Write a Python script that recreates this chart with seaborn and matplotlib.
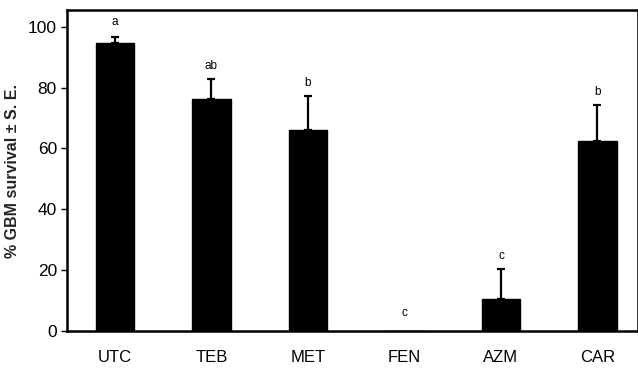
import matplotlib
matplotlib.use("Agg")
import matplotlib.pyplot as plt
import seaborn as sns
import numpy as np
import pandas as pd

treatments = ["UTC", "TEB", "MET", "FEN", "AZM", "CAR"]
survival = [94.7, 76.1, 66.0, 0.0, 10.5, 62.5]
se = [2.0, 6.6, 11.3, 0.0, 9.8, 11.8]
letters = ["a", "ab", "b", "c", "c", "b"]

sns.set_theme(style="white")
plt.rcParams['font.family'] = ['Liberation Sans', 'DejaVu Sans']

df = pd.DataFrame({"treatment": treatments, "survival": survival})

fig = plt.figure(figsize=(6.38, 3.68), dpi=100)
ax = fig.add_axes([0.1045, 0.1005, 0.8955, 0.8723])

sns.barplot(data=df, x="treatment", y="survival", color="black",
            width=0.40, errorbar=None, ax=ax, saturation=1)
for p in ax.patches:
    p.set_edgecolor("black")

x = np.arange(len(treatments))
mask = np.array(se) > 0
ax.errorbar(x[mask], np.array(survival)[mask],
            yerr=[np.zeros(mask.sum()), np.array(se)[mask]],
            fmt="none", ecolor="black", elinewidth=1.6, capsize=3, capthick=1.6)

offsets = {0: 5.0, 3: 5.9}
for i, (v, s, l) in enumerate(zip(survival, se, letters)):
    yy = v + s + offsets.get(i, 4.3) if v > 0 else 5.9
    ax.text(i, yy, l, ha="center", va="center", fontsize=8.5, color="black")

ax.set_ylim(0, 105.5)
ax.set_xlim(-0.5, 5.42)
ax.set_yticks([0, 20, 40, 60, 80, 100])
ax.set_xlabel("")
ax.set_ylabel("% GBM survival ± S. E.", fontsize=11.5, fontweight="bold", labelpad=6)
ax.tick_params(axis="y", left=True, length=4, width=1, labelsize=12.5, pad=3, color="black")
ax.tick_params(axis="x", bottom=False, labelsize=12, pad=8)
for lbl in ax.get_xticklabels() + ax.get_yticklabels():
    lbl.set_color("black")
for side in ["left", "bottom", "top", "right"]:
    ax.spines[side].set_color("black")
    ax.spines[side].set_linewidth(1.8)

fig.savefig("out.png", dpi=100)
